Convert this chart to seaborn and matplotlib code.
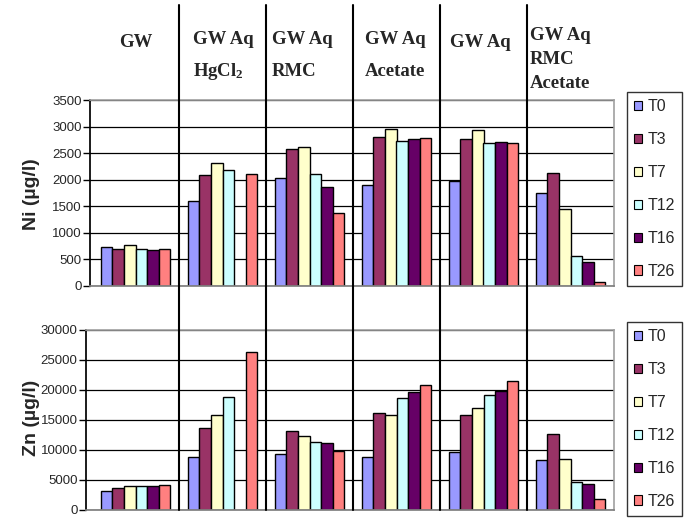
import numpy as np
import pandas as pd
import matplotlib
matplotlib.use("Agg")
import matplotlib.pyplot as plt
import matplotlib.transforms as mtransforms
from matplotlib.lines import Line2D
import seaborn as sns

# data
groups = ["GW", "GW Aq HgCl2", "GW Aq RMC", "GW Aq Acetate", "GW Aq", "GW Aq RMC Acetate"]
times = ["T0", "T3", "T7", "T12", "T16", "T26"]
colors = ["#9999FF", "#993366", "#FFFFCC", "#CCFFFF", "#660066", "#FF8080"]

ni_T0 = [730, 1600, 2030, 1900, 1980, 1750]
ni_T3 = [700, 2080, 2580, 2810, 2760, 2130]
ni_T7 = [780, 2310, 2610, 2960, 2940, 1440]
ni_T12 = [700, 2180, 2100, 2735, 2685, 560]
ni_T16 = [680, np.nan, 1870, 2760, 2710, 450]
ni_T26 = [700, 2100, 1370, 2785, 2685, 70]

zn_T0 = [3150, 8900, 9400, 8900, 9600, 8300]
zn_T3 = [3600, 13700, 13200, 16100, 15900, 12600]
zn_T7 = [4000, 15900, 12400, 15900, 17000, 8500]
zn_T12 = [4000, 18800, 11400, 18600, 19100, 4600]
zn_T16 = [4000, np.nan, 11200, 19700, 19800, 4400]
zn_T26 = [4200, 26400, 9800, 20800, 21500, 1800]

header_lines = [["GW"], ["GW Aq", "HgCl$_2$"], ["GW Aq", "RMC"], ["GW Aq", "Acetate"],
                ["GW Aq"], ["GW Aq", "RMC", "Acetate"]]


def long_df(series):
    rows = []
    for t, vals in zip(times, series):
        for g, v in zip(groups, vals):
            rows.append({"group": g, "time": t, "value": v})
    return pd.DataFrame(rows)


ni = long_df([ni_T0, ni_T3, ni_T7, ni_T12, ni_T16, ni_T26])
zn = long_df([zn_T0, zn_T3, zn_T7, zn_T12, zn_T16, zn_T26])

sns.set_theme(style="white")
plt.rcParams["font.family"] = ["Liberation Sans", "DejaVu Sans"]
plt.rcParams["mathtext.fontset"] = "custom"
plt.rcParams["mathtext.rm"] = "Liberation Serif:bold"
plt.rcParams["mathtext.it"] = "Liberation Serif:bold"
plt.rcParams["mathtext.bf"] = "Liberation Serif:bold"

W, H = 687, 518
fig = plt.figure(figsize=(W / 100, H / 100), dpi=100)

# axes placed in pixels of the reference
ax1 = fig.add_axes([90 / W, 1 - 286 / H, 524 / W, 186 / H])
ax2 = fig.add_axes([86 / W, 1 - 510 / H, 528 / W, 180 / H])

for ax, df, ymax, step, lab, lab_y in [(ax1, ni, 3500, 500, "Ni (\u00b5g/l)", 194),
                                      (ax2, zn, 30000, 5000, "Zn (\u00b5g/l)", 418)]:
    sns.barplot(data=df, x="group", y="value", hue="time", order=groups, hue_order=times,
                palette=colors, edgecolor="black", linewidth=1.0, saturation=1,
                width=0.8, ax=ax, legend=True)
    ax.set_ylim(0, ymax)
    ax.set_yticks(np.arange(0, ymax + 1, step))
    ax.yaxis.grid(True, color="black", linewidth=0.9)
    ax.set_axisbelow(True)
    ax.set_xticks([])
    ax.set_xlabel("")
    ax.set_ylabel("")
    ax.tick_params(axis="y", labelsize=9.5, length=5, width=1, color="black", pad=1, left=True)
    ax.spines["left"].set_color("black")
    ax.spines["bottom"].set_color("#808080")
    for s in ["top", "right"]:
        ax.spines[s].set_color("#a0a0a0")
        ax.spines[s].set_linewidth(1.2)
    fig.text(32 / W, 1 - lab_y / H, lab, rotation=90, ha="center", va="center",
             fontsize=14, fontweight="bold")
    handles, labels = ax.get_legend_handles_labels()
    ax.get_legend().remove()

ax1.set_xlim(-0.5 - 2 / 87, 5.5)
ax2.set_xlim(-0.5 - 6 / 87, 5.5)

# legends at the right
for top_px in [92, 322]:
    leg = fig.legend(handles, labels, loc="upper left",
                     bbox_to_anchor=(627 / W, 1 - top_px / H), bbox_transform=fig.transFigure,
                     frameon=True, fancybox=False, fontsize=11.5, handlelength=0.5,
                     handleheight=0.5, handletextpad=0.35, labelspacing=1.12,
                     borderpad=0.45, borderaxespad=0)
    leg.get_frame().set_edgecolor("black")
    leg.get_frame().set_linewidth(1.0)
    for h in leg.legend_handles:
        h.set_edgecolor("black")
        h.set_linewidth(0.8)

# group separator lines running through header and both charts
blend = mtransforms.blended_transform_factory(ax1.transData, fig.transFigure)
for k in range(1, len(groups)):
    fig.add_artist(Line2D([k - 0.5, k - 0.5], [1 - 5 / H, 1 - 510 / H], transform=blend,
                          color="black", linewidth=1.5))

# header texts
offsets = [0.0, -0.34, -0.43, -0.36, -0.385, -0.47]
line_y = {1: [42], 2: [40, 72], 3: [35, 60, 83]}
for i, lines in enumerate(header_lines):
    ys = line_y[len(lines)]
    ha = "center" if i == 0 else "left"
    for txt, y in zip(lines, ys):
        fig.text(i + offsets[i], 1 - y / H, txt, transform=blend, ha=ha, va="center",
                 fontsize=13.5, fontweight="bold", family="Liberation Serif")

fig.savefig("out.png", dpi=100)
